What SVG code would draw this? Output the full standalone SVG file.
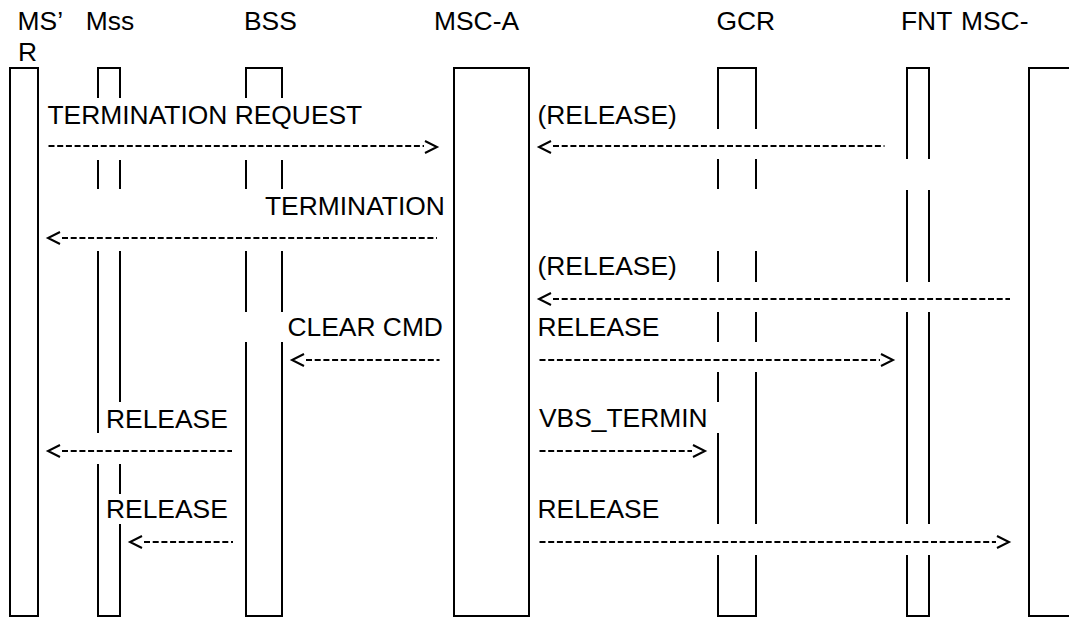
<svg xmlns="http://www.w3.org/2000/svg" width="1069" height="617" viewBox="0 0 1069 617">
<style>
.t{font-family:"Liberation Sans",Arial,sans-serif;font-size:26.4px;fill:#000}
.ll{fill:none;stroke:#000;stroke-width:2;stroke-linejoin:miter}
.d{stroke:#000;stroke-width:2;stroke-dasharray:6 2.7;fill:none}
.h{fill:none;stroke:#000;stroke-width:2;stroke-linejoin:miter}
</style>
<rect width="1069" height="617" fill="#fff"/>
<g id="node-msr">
<rect class="ll" x="10" y="68" width="28" height="548"/>
<text class="t" x="17.6" y="30">MS’</text>
<text class="t" x="18" y="61">R</text>
</g>
<g id="node-mss">
<path class="ll" d="M98,98 V68 H120 V98 M98,160 V189 M120,160 V189 M98,251 V433 M120,251 V402 M120,494 V464 M98,464 V616 H120 V524"/>
<text class="t" x="85.8" y="30">Mss</text>
</g>
<g id="node-bss">
<path class="ll" d="M246,98 V68 H282 V98 M246,160 V189 M282,160 V189 M246,251 V312 M282,251 V312 M246,342 V616 H282 V342"/>
<text class="t" x="244" y="30">BSS</text>
</g>
<g id="node-msca">
<rect class="ll" x="454" y="68" width="75" height="548"/>
<text class="t" x="434" y="30">MSC-A</text>
</g>
<g id="node-gcr">
<path class="ll" d="M718,129 V68 H756 V129 M718,159 V189 M756,159 V189 M718,251 V282 M756,251 V282 M718,312 V342 M756,312 V342 M718,372 V402 M756,372 V524 M718,433 V524 M718,555 V616 H756 V555"/>
<text class="t" x="716.5" y="30">GCR</text>
</g>
<g id="node-fnt">
<path class="ll" d="M907,159 V68 H929 V159 M907,190 V282 M929,190 V282 M907,312 V524 M929,312 V524 M907,555 V616 H929 V555"/>
<text class="t" x="901" y="30">FNT</text>
</g>
<g id="node-mscb">
<path class="ll" d="M1071,68 H1029 V616 H1071"/>
<text class="t" x="961" y="30">MSC-</text>
</g>
<g id="connectors">
<line class="d" x1="48.5" y1="146" x2="424" y2="146"/>
<polyline class="h" points="425,141 437,147 425,153"/>
<polyline class="h" points="551,141 539,147 551,153"/>
<line class="d" x1="553" y1="146" x2="884.5" y2="146"/>
<polyline class="h" points="60,232 48,238 60,244"/>
<line class="d" x1="62" y1="238" x2="437" y2="238"/>
<polyline class="h" points="551,293 539,299 551,305"/>
<line class="d" x1="553" y1="299" x2="1010" y2="299"/>
<polyline class="h" points="304,354 292,360 304,366"/>
<line class="d" x1="306" y1="360" x2="439.5" y2="360"/>
<line class="d" x1="539.5" y1="360" x2="880" y2="360"/>
<polyline class="h" points="881,354 893,360 881,366"/>
<polyline class="h" points="60,445 48,451 60,457"/>
<line class="d" x1="62" y1="451" x2="232" y2="451"/>
<line class="d" x1="539.5" y1="451" x2="692" y2="451"/>
<polyline class="h" points="693,445 705,451 693,457"/>
<polyline class="h" points="142,536 130,542 142,548"/>
<line class="d" x1="144" y1="542" x2="233" y2="542"/>
<line class="d" x1="539.5" y1="542" x2="996" y2="542"/>
<polyline class="h" points="997,536 1009,542 997,548"/>
</g>
<g id="labels">
<text class="t" x="47.5" y="124">TERMINATION REQUEST</text>
<text class="t" x="537.5" y="124">(RELEASE)</text>
<text class="t" x="265" y="214.7">TERMINATION</text>
<text class="t" x="537.5" y="275">(RELEASE)</text>
<text class="t" x="287.5" y="336">CLEAR CMD</text>
<text class="t" x="537.5" y="336">RELEASE</text>
<text class="t" x="106" y="427.5">RELEASE</text>
<text class="t" x="539" y="427.3">VBS_TERMIN</text>
<text class="t" x="106" y="518">RELEASE</text>
<text class="t" x="537.5" y="518">RELEASE</text>
</g>
</svg>
